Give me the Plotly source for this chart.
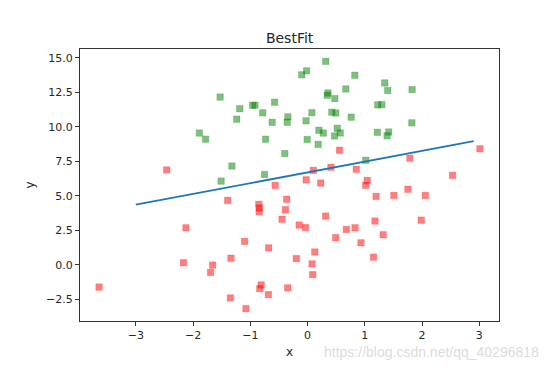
import plotly.graph_objects as go

# class 0 (green) points
x0 = [-0.017612, -0.752157, -1.322371, 0.423363, 0.667394, 0.569411, -0.026632, 1.347183,
      -1.781871, -0.576525, 1.217916, -0.733928, 1.416614, 1.224863, 0.275221, 0.470575,
      -1.889567, -1.527893, -1.185247, -0.618787, -1.237728, -0.959885, 0.492911, 0.184992,
      -0.355715, -0.397822, 0.824839, -0.344008, -0.918801, -0.007194, 0.356107, 0.342578,
      1.296683, 0.475487, -0.783277, 0.074798, -0.102781, 0.518389, 1.015399, -1.510047,
      1.821096, 1.400102, 1.825662, 0.197445, 0.761349, 1.388610, 0.317029]
y0 = [14.053064, 6.538620, 7.152853, 11.054677, 12.741452, 9.548755, 10.427743, 13.175500,
      9.097953, 11.778922, 9.597015, 9.098687, 9.619232, 11.587360, 9.543647, 9.332488,
      9.542662, 12.150579, 11.309318, 10.320986, 10.549033, 11.555336, 10.993324, 8.721488,
      10.325976, 8.058397, 13.730343, 10.717485, 11.560217, 9.075792, 12.447863, 12.281162,
      11.607559, 12.040035, 11.009725, 11.023650, 13.763651, 9.887035, 7.571882, 6.061992,
      10.283990, 12.628781, 12.693808, 9.744638, 10.693862, 9.341997, 14.739025]

# class 1 (red) points
x1 = [-1.395634, 0.406704, -2.460150, 0.850433, 1.176813, -0.566606, 0.931635, -0.024205,
      -0.036453, -0.196949, 1.014459, 1.985298, -1.693453, -0.346811, -2.124484, -3.642001,
      0.315985, -0.386323, 0.556921, -1.347803, 1.196604, -0.445678, 1.042222, 1.152083,
      0.828534, -0.683565, 0.229456, 1.507278, 0.099671, 1.785928, -0.364009, -0.841722,
      0.490426, -0.810823, 2.530777, -1.337472, -0.147324, -1.658086, 1.319944, 2.056216,
      -0.851633, -1.076637, 3.010150, -1.099458, -0.834872, -0.846637, 1.752842, 0.078557,
      0.089392, 0.126117, -0.679797, 0.677983, -2.168791]
y1 = [4.662541, 7.067335, 6.866805, 6.920334, 3.167020, 5.749003, 1.589505, 6.151823,
      2.690988, 0.444165, 5.754399, 3.230619, -0.557540, -1.678730, 2.672471, -1.618087,
      3.523953, 3.989286, 8.294984, -2.406051, 4.951851, 3.297303, 6.105155, 0.548467,
      2.676045, -2.166125, 5.921938, 5.027866, 6.835839, 7.718645, 4.747300, 4.119083,
      1.960539, -1.466018, 6.476801, 0.468339, 2.874846, -0.027255, 2.171228, 5.019981,
      4.375691, -3.181888, 8.401766, 1.688274, -1.733869, 3.849075, 5.468166, 0.059736,
      -0.715300, 0.922311, 1.220530, 2.556666, 0.143632]

# best-fit line endpoints
line_x = [-3.0, 2.9]
line_y = [4.35, 8.95]

x_ticks = [-3, -2, -1, 0, 1, 2, 3]
y_ticks = [-2.5, 0.0, 2.5, 5.0, 7.5, 10.0, 12.5, 15.0]
y_tick_labels = ["\u22122.5", "0.0", "2.5", "5.0", "7.5", "10.0", "12.5", "15.0"]
x_tick_labels = ["\u22123", "\u22122", "\u22121", "0", "1", "2", "3"]

fig = go.Figure()
fig.add_trace(go.Scatter(x=x1, y=y1, mode="markers",
                         marker=dict(symbol="square", size=6.5, color="rgba(255,0,0,0.5)",
                                     line=dict(width=1, color="rgba(255,0,0,0.2)"))))
fig.add_trace(go.Scatter(x=x0, y=y0, mode="markers",
                         marker=dict(symbol="square", size=6.5, color="rgba(0,128,0,0.5)",
                                     line=dict(width=1, color="rgba(0,128,0,0.2)"))))
fig.add_trace(go.Scatter(x=line_x, y=line_y, mode="lines",
                         line=dict(color="#1f77b4", width=1.8)))

axis_common = dict(showline=True, mirror=True, linecolor="#333333", linewidth=1,
                   ticks="outside", ticklen=4, tickcolor="#333333", tickwidth=1,
                   showgrid=False, zeroline=False, automargin=False,
                   tickfont=dict(family="DejaVu Sans", size=11, color="#262626"))

fig.update_layout(
    width=548, height=370,
    margin=dict(l=80, r=49, t=49, b=49),
    paper_bgcolor="white", plot_bgcolor="white",
    showlegend=False,
    title=dict(text="BestFit", x=0.5285, xanchor="center", y=1 - 38 / 370, yanchor="middle",
               font=dict(family="DejaVu Sans", size=14, color="#262626")),
    xaxis=dict(range=[-3.975, 3.343], tickvals=x_ticks, ticktext=x_tick_labels,
               title=dict(text="x", standoff=6,
                          font=dict(family="DejaVu Sans", size=12, color="#262626")),
               **axis_common),
    yaxis=dict(range=[-4.078, 15.635], tickvals=y_ticks, ticktext=y_tick_labels,
               title=dict(text="y", standoff=8,
                          font=dict(family="DejaVu Sans", size=12, color="#262626")),
               **axis_common),
)

fig.add_annotation(text="https://blog.csdn.net/qq_40296818", xref="paper", yref="paper",
                   x=(541 - 80) / 419, y=-(352 - 321) / 272, xanchor="right", yanchor="middle",
                   showarrow=False,
                   font=dict(family="Liberation Sans", size=14, color="rgba(215,215,215,0.9)"))

fig.write_html("out.html", config={"displayModeBar": False},
               post_script="document.body.style.margin='0';document.body.style.overflow='hidden';")
